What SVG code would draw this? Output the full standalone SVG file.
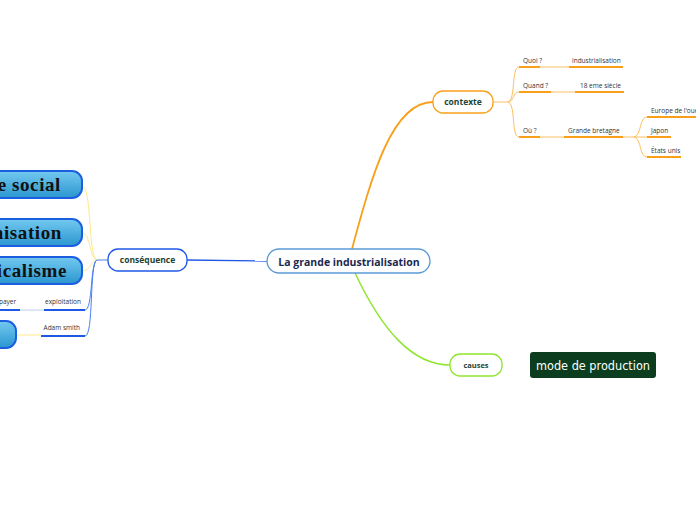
<svg xmlns="http://www.w3.org/2000/svg" width="696" height="520" viewBox="0 0 696 520">
<defs>
<linearGradient id="bg" x1="0" y1="0" x2="0" y2="1">
<stop offset="0" stop-color="#74c9f0"/>
<stop offset="1" stop-color="#2a96cf"/>
</linearGradient>
</defs>
<style>
.node{fill:#fff;stroke-width:1.3}
.lbl{font-family:"Open Sans","Noto Sans",sans-serif;font-weight:bold;fill:#1d4434;text-anchor:middle}
.sm{font-family:"Open Sans","Noto Sans",sans-serif;font-size:6.5px;fill:#333}
.big{fill:url(#bg);stroke:#1b5fe0;stroke-width:2}
.bigt{font-family:"Liberation Serif",serif;font-weight:bold;font-size:19px;fill:#111;text-anchor:end;letter-spacing:0.6px}
.o{stroke:#fbc062;fill:none;stroke-width:1}
.ou{stroke:#f9a01b;fill:none;stroke-width:2}
.b{stroke:#4a7ff0;fill:none;stroke-width:1}
.bu{stroke:#2058e6;fill:none;stroke-width:2}
.y{stroke:#fde98a;fill:none;stroke-width:1}
</style>
<rect width="696" height="520" fill="#fff"/>
<g id="connectors">
<path d="M352,249 C372,175 392,102 433,102" stroke="#f9a01b" stroke-width="1.8" fill="none"/>
<path d="M355,273 C382,330 412,365 450,365" stroke="#8ee62e" stroke-width="1.5" fill="none"/>
<path d="M187,260 L267,261" stroke="#2058e6" stroke-width="1.3" fill="none"/>
<path d="M493,102 L508,102" class="o" stroke-width="1.5"/>
<path d="M508,102 C516,100 511,67 519,67" class="o"/>
<path d="M508,102 C515,101 512,92 519,92" class="o"/>
<path d="M508,102 C516,104 511,137 519,137" class="o"/>
<path d="M540,67 L569,67" class="o"/>
<path d="M551,92 L575,92" class="o"/>
<path d="M540,137 L564,137" class="o"/>
<path d="M623,137 L634,137" class="o"/>
<path d="M634,137 C642,135 639,117 647,117" class="o"/>
<path d="M634,137 L647,137" class="o"/>
<path d="M634,137 C642,139 639,157 647,157" class="o"/>
<path d="M519,67 L540,67 M569,67 L623,67 M519,92 L551,92 M575,92 L624,92 M519,137 L540,137 M564,137 L623,137 M647,117 L700,117 M647,137 L671,137 M647,157 L681,157" class="ou"/>
<path d="M108,260 L97,260" class="b" stroke-width="1.5"/>
<path d="M97,260 C88,258 92,186 82,186" class="y"/>
<path d="M97,260 C89,259 91,233 82,233" class="y"/>
<path d="M97,260 C90,261 91,271 82,271" class="y"/>
<path d="M97,260 C90,262 93,310 85,310" class="b"/>
<path d="M97,260 C89,263 94,336 85,336" class="b"/>
<path d="M44,310 L85,310 M0,310 L20,310 M41,336 L85,336" class="bu"/>
<path d="M20,310 L44,310" stroke="#b9ccf6" stroke-width="1" fill="none"/>
<path d="M16,335 L41,335" class="y" stroke-width="1.5"/>
</g>
<g id="central">
<rect x="267" y="249" width="163" height="24" rx="12" class="node" stroke="#5b9bd5"/>
<text x="349" y="265.5" class="lbl" font-size="10.5px" fill="#1a2a4a" style="fill:#1b2850">La grande industrialisation</text>
</g>
<g id="contexte">
<rect x="433" y="91" width="60" height="22" rx="10" class="node" stroke="#f9a01b"/>
<text x="463" y="105" class="lbl" font-size="8.5px">contexte</text>
</g>
<g id="causes">
<rect x="450" y="354" width="52" height="22" rx="10" class="node" stroke="#8ee62e"/>
<text x="476" y="368" class="lbl" font-size="7.5px">causes</text>
</g>
<g id="mode">
<rect x="530" y="352" width="126" height="26" rx="3" fill="#0b3d1e"/>
<text x="593" y="369.5" font-family="DejaVu Sans,sans-serif" font-size="13px" fill="#fff" text-anchor="middle" textLength="114" lengthAdjust="spacingAndGlyphs">mode de production</text>
</g>
<g id="consequence">
<rect x="108" y="249" width="79" height="22" rx="10" class="node" stroke="#2058e6"/>
<text x="147.5" y="263" class="lbl" font-size="8.5px">conséquence</text>
</g>
<g id="quoi"><text x="523" y="63" class="sm">Quoi ?</text></g>
<g id="industrialisation"><text x="572" y="63" class="sm">industrialisation</text></g>
<g id="quand"><text x="523" y="88" class="sm">Quand ?</text></g>
<g id="siecle"><text x="580" y="88" class="sm">18 eme siècle</text></g>
<g id="ou"><text x="523" y="133" class="sm">Où ?</text></g>
<g id="gb"><text x="568" y="133" class="sm">Grande bretagne</text></g>
<g id="europe"><text x="651" y="113" class="sm">Europe de l'ouest</text></g>
<g id="japon"><text x="651" y="133" class="sm">Japon</text></g>
<g id="etats"><text x="651" y="153" class="sm">États unis</text></g>
<g id="social">
<rect x="-20" y="171" width="102" height="27" rx="10" class="big"/>
<text x="61" y="191" class="bigt">e social</text>
</g>
<g id="nisation">
<rect x="-20" y="219" width="102" height="27" rx="10" class="big"/>
<text x="62" y="239" class="bigt">nisation</text>
</g>
<g id="dicalisme">
<rect x="-20" y="257" width="102" height="27" rx="10" class="big"/>
<text x="67" y="277" class="bigt">dicalisme</text>
</g>
<g id="payer"><text x="-1" y="304" class="sm">payer</text></g>
<g id="exploitation"><text x="81" y="304" class="sm" text-anchor="end">exploitation</text></g>
<g id="adam"><text x="80" y="330" class="sm" text-anchor="end">Adam smith</text></g>
<g id="bottom">
<rect x="-30" y="321" width="46" height="27" rx="10" class="big"/>
</g>
</svg>
